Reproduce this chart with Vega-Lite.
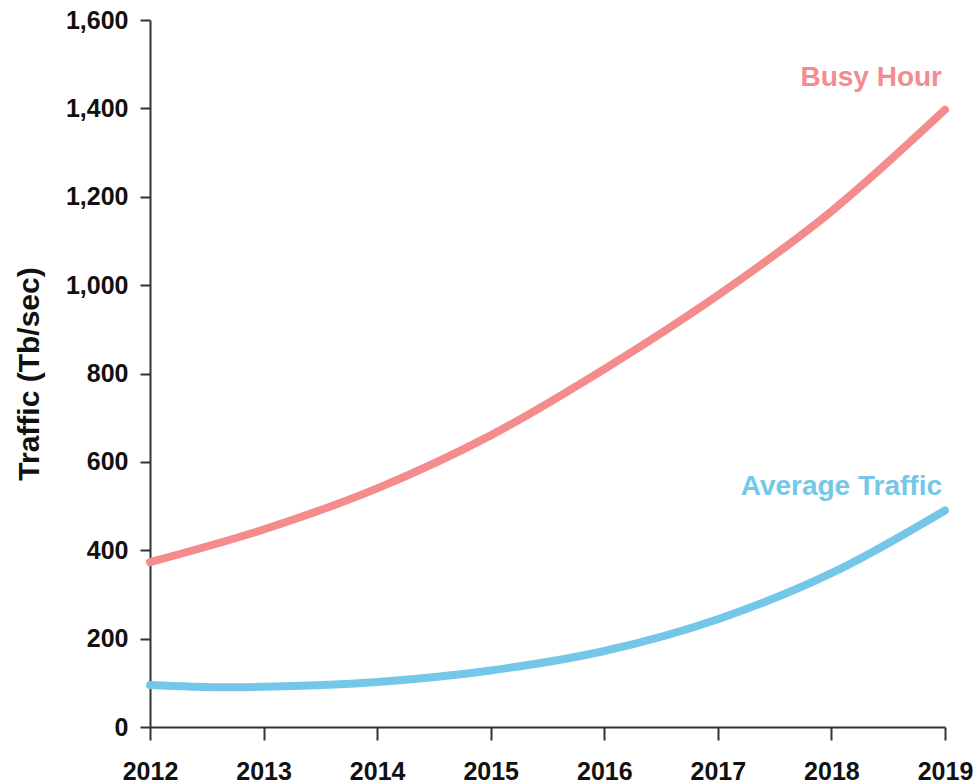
{
  "$schema": "https://vega.github.io/schema/vega-lite/v6.json",
  "autosize": "none",
  "width": 795,
  "height": 707,
  "padding": {"left": 150, "top": 20, "right": 30, "bottom": 57},
  "background": "white",
  "config": {
    "view": {"stroke": null},
    "font": "Liberation Sans"
  },
  "datasets": {
    "lines": [
      {"year": 2012, "value": 373, "series": "Busy Hour"},
      {"year": 2013, "value": 447, "series": "Busy Hour"},
      {"year": 2014, "value": 540, "series": "Busy Hour"},
      {"year": 2015, "value": 660, "series": "Busy Hour"},
      {"year": 2016, "value": 810, "series": "Busy Hour"},
      {"year": 2017, "value": 977, "series": "Busy Hour"},
      {"year": 2018, "value": 1167, "series": "Busy Hour"},
      {"year": 2019, "value": 1397, "series": "Busy Hour"},
      {"year": 2012, "value": 95, "series": "Average Traffic"},
      {"year": 2012.65, "value": 90, "series": "Average Traffic"},
      {"year": 2013, "value": 91, "series": "Average Traffic"},
      {"year": 2014, "value": 102, "series": "Average Traffic"},
      {"year": 2015, "value": 128, "series": "Average Traffic"},
      {"year": 2016, "value": 172, "series": "Average Traffic"},
      {"year": 2017, "value": 244, "series": "Average Traffic"},
      {"year": 2018, "value": 348, "series": "Average Traffic"},
      {"year": 2019, "value": 490, "series": "Average Traffic"}
    ],
    "labels": [
      {"year": 2019, "value": 1451, "series": "Busy Hour"},
      {"year": 2019, "value": 524, "series": "Average Traffic"}
    ]
  },
  "layer": [
    {
      "data": {"name": "lines"},
      "mark": {"type": "line", "strokeWidth": 8, "strokeCap": "round", "interpolate": "monotone"},
      "encoding": {
        "x": {
          "field": "year", "type": "quantitative",
          "scale": {"domain": [2012, 2019], "nice": false, "zero": false},
          "axis": {
            "title": null,
            "values": [2012, 2013, 2014, 2015, 2016, 2017, 2018, 2019],
            "format": "d",
            "grid": false,
            "domainColor": "#333333", "domainWidth": 2,
            "tickColor": "#333333", "tickWidth": 2, "tickSize": 13,
            "labelFont": "Liberation Sans", "labelFontWeight": "bold", "labelFontSize": 25,
            "labelColor": "#111111", "labelPadding": 19,
            "labelOverlap": false, "labelBound": false, "labelFlush": false
          }
        },
        "y": {
          "field": "value", "type": "quantitative",
          "scale": {"domain": [0, 1600], "nice": false},
          "axis": {
            "title": "Traffic (Tb/sec)",
            "values": [0, 200, 400, 600, 800, 1000, 1200, 1400, 1600],
            "format": ",d",
            "grid": false,
            "domainColor": "#333333", "domainWidth": 2,
            "tickColor": "#333333", "tickWidth": 2, "tickSize": 10,
            "labelFont": "Liberation Sans", "labelFontWeight": "bold", "labelFontSize": 25,
            "labelColor": "#111111", "labelPadding": 12,
            "labelOverlap": false, "labelBound": false, "labelFlush": false,
            "titleFont": "Liberation Sans", "titleFontWeight": "bold", "titleFontSize": 30,
            "titleColor": "#111111", "titlePadding": 21
          }
        },
        "color": {
          "field": "series", "type": "nominal",
          "scale": {"domain": ["Busy Hour", "Average Traffic"], "range": ["#F48C8E", "#74C7E8"]},
          "legend": null
        },
        "detail": {"field": "series"}
      }
    },
    {
      "data": {"name": "labels"},
      "mark": {"type": "text", "align": "right", "baseline": "alphabetic", "dx": -3, "font": "Liberation Sans", "fontWeight": "bold", "fontSize": 28},
      "encoding": {
        "x": {"field": "year", "type": "quantitative"},
        "y": {"field": "value", "type": "quantitative"},
        "text": {"field": "series"},
        "color": {"field": "series", "type": "nominal", "legend": null}
      }
    }
  ]
}
